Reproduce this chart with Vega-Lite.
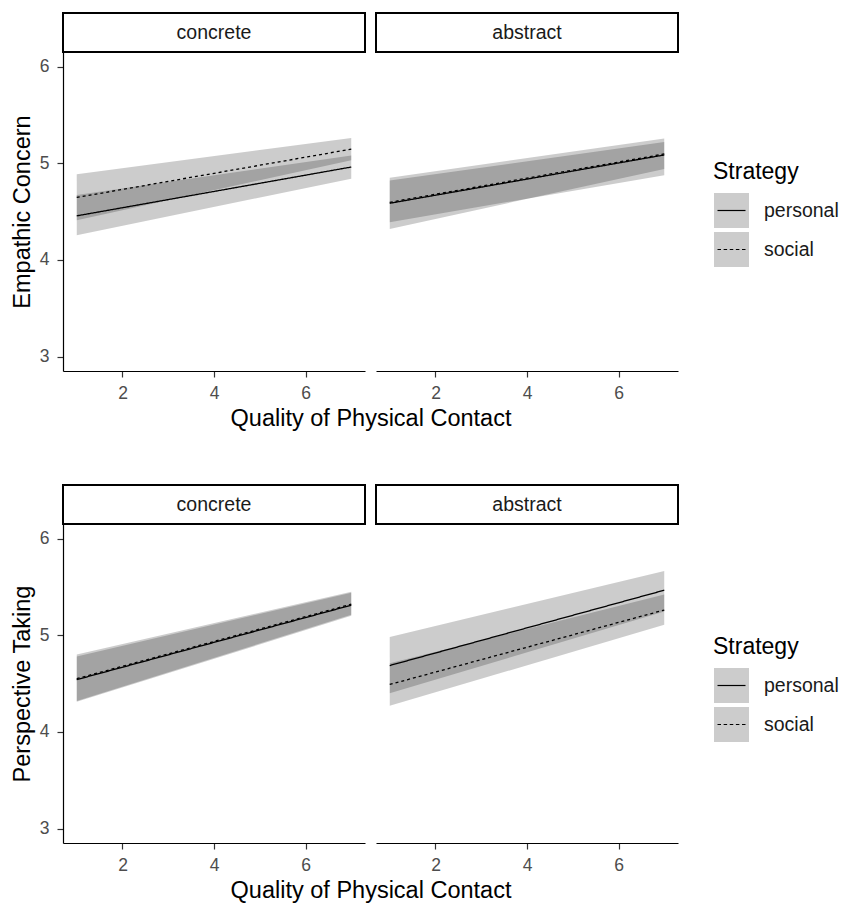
{
  "$schema": "https://vega.github.io/schema/vega-lite/v6.json",
  "padding": {"left": 10, "top": 12, "right": 5, "bottom": 5},
  "background": "white",
  "datasets": {
    "strips": [{"cond": "concrete"}, {"cond": "abstract"}],
    "fits": [
      {"m": "EC", "cond": "concrete", "strategy": "personal", "x": 1, "fit": 4.455, "lo": 4.255, "hi": 4.67},
      {"m": "EC", "cond": "concrete", "strategy": "personal", "x": 7, "fit": 4.96, "lo": 4.84, "hi": 5.08},
      {"m": "EC", "cond": "concrete", "strategy": "social", "x": 1, "fit": 4.645, "lo": 4.41, "hi": 4.886},
      {"m": "EC", "cond": "concrete", "strategy": "social", "x": 7, "fit": 5.145, "lo": 5.03, "hi": 5.26},
      {"m": "EC", "cond": "abstract", "strategy": "personal", "x": 1, "fit": 4.585, "lo": 4.32, "hi": 4.82},
      {"m": "EC", "cond": "abstract", "strategy": "personal", "x": 7, "fit": 5.085, "lo": 4.94, "hi": 5.22},
      {"m": "EC", "cond": "abstract", "strategy": "social", "x": 1, "fit": 4.595, "lo": 4.39, "hi": 4.85},
      {"m": "EC", "cond": "abstract", "strategy": "social", "x": 7, "fit": 5.095, "lo": 4.876, "hi": 5.255},
      {"m": "PT", "cond": "concrete", "strategy": "personal", "x": 1, "fit": 4.54, "lo": 4.31, "hi": 4.78},
      {"m": "PT", "cond": "concrete", "strategy": "personal", "x": 7, "fit": 5.31, "lo": 5.2, "hi": 5.44},
      {"m": "PT", "cond": "concrete", "strategy": "social", "x": 1, "fit": 4.55, "lo": 4.32, "hi": 4.8},
      {"m": "PT", "cond": "concrete", "strategy": "social", "x": 7, "fit": 5.32, "lo": 5.21, "hi": 5.45},
      {"m": "PT", "cond": "abstract", "strategy": "personal", "x": 1, "fit": 4.686, "lo": 4.4, "hi": 4.98},
      {"m": "PT", "cond": "abstract", "strategy": "personal", "x": 7, "fit": 5.465, "lo": 5.245, "hi": 5.665},
      {"m": "PT", "cond": "abstract", "strategy": "social", "x": 1, "fit": 4.49, "lo": 4.27, "hi": 4.71},
      {"m": "PT", "cond": "abstract", "strategy": "social", "x": 7, "fit": 5.26, "lo": 5.107, "hi": 5.42}
    ]
  },
  "vconcat": [
    {
      "columns": 2,
      "bounds": "flush",
      "spacing": {"row": 0, "column": 11},
      "concat": [
        {
          "data": {"name": "strips"},
          "transform": [{"filter": "datum.cond === 'concrete'"}],
          "width": 302, "height": 39,
          "view": {"stroke": "black", "strokeWidth": 2, "fill": "white"},
          "mark": {"type": "text", "fontSize": 19.5, "color": "#1a1a1a"},
          "encoding": {"text": {"field": "cond", "type": "nominal"}}
        },
        {
          "data": {"name": "strips"},
          "transform": [{"filter": "datum.cond === 'abstract'"}],
          "width": 302, "height": 39,
          "view": {"stroke": "black", "strokeWidth": 2, "fill": "white"},
          "mark": {"type": "text", "fontSize": 19.5, "color": "#1a1a1a"},
          "encoding": {"text": {"field": "cond", "type": "nominal"}}
        },
        {
          "data": {"name": "fits"},
          "transform": [{"filter": "datum.m === 'EC' && datum.cond === 'concrete'"}],
          "width": 302, "height": 319,
          "resolve": {"scale": {"strokeDash": "independent"}, "legend": {"strokeDash": "independent"}},
          "layer": [
            {
              "mark": {"type": "area", "color": "black", "opacity": 0.2},
              "encoding": {
                "x": {"field": "x", "type": "quantitative", "scale": {"domain": [0.7, 7.3], "nice": false, "zero": false}, "axis": {"values": [2, 4, 6], "title": "Quality of Physical Contact", "titleX": 307.5, "titleAlign": "center"}},
                "y": {"field": "lo", "type": "quantitative", "scale": {"domain": [2.85, 6.15], "nice": false, "zero": false}, "axis": {"values": [3, 4, 5, 6], "format": "d", "title": "Empathic Concern", "labelPadding": 8, "titlePadding": 5}},
                "y2": {"field": "hi"},
                "detail": {"field": "strategy", "type": "nominal"}
              }
            },
            {
              "mark": {"type": "line", "color": "black", "strokeWidth": 1.3},
              "encoding": {
                "x": {"field": "x", "type": "quantitative"},
                "y": {"field": "fit", "type": "quantitative"},
                "strokeDash": {"field": "strategy", "type": "nominal", "scale": {"domain": ["personal", "social"], "range": [[1, 0], [3, 3]]}, "legend": null}
              }
            },
            {
              "mark": {"type": "line", "color": "black", "opacity": 0},
              "encoding": {
                "x": {"field": "x", "type": "quantitative"},
                "y": {"field": "fit", "type": "quantitative"},
                "strokeDash": {
                  "field": "strategy", "type": "nominal",
                  "scale": {"domain": ["personal", "social"], "range": [[28, 200], [3.5, 2.625, 3.5, 2.625, 3.5, 2.625, 3.5, 2.625, 3.5, 200]]},
                  "legend": {
                    "title": "Strategy", "orient": "none", "legendX": 650, "legendY": 109, "direction": "vertical",
                    "symbolType": "M-0.8,0H1V-1H-1V1H1V0", "symbolSize": 1225, "symbolStrokeWidth": 1.2,
                    "symbolStrokeColor": "black", "symbolFillColor": "#cccccc", "symbolOpacity": 1,
                    "rowPadding": -6, "labelOffset": 14, "titlePadding": 8
                  }
                }
              }
            }
          ]
        },
        {
          "data": {"name": "fits"},
          "transform": [{"filter": "datum.m === 'EC' && datum.cond === 'abstract'"}],
          "width": 302, "height": 319,
          "layer": [
            {
              "mark": {"type": "area", "color": "black", "opacity": 0.2},
              "encoding": {
                "x": {"field": "x", "type": "quantitative", "scale": {"domain": [0.7, 7.3], "nice": false, "zero": false}, "axis": {"values": [2, 4, 6], "title": null}},
                "y": {"field": "lo", "type": "quantitative", "scale": {"domain": [2.85, 6.15], "nice": false, "zero": false}, "axis": null},
                "y2": {"field": "hi"},
                "detail": {"field": "strategy", "type": "nominal"}
              }
            },
            {
              "mark": {"type": "line", "color": "black", "strokeWidth": 1.3},
              "encoding": {
                "x": {"field": "x", "type": "quantitative"},
                "y": {"field": "fit", "type": "quantitative"},
                "strokeDash": {"field": "strategy", "type": "nominal", "scale": {"domain": ["personal", "social"], "range": [[1, 0], [3, 3]]}, "legend": null}
              }
            }
          ]
        }
      ]
    },
    {
      "columns": 2,
      "bounds": "flush",
      "spacing": {"row": 0, "column": 11},
      "concat": [
        {
          "data": {"name": "strips"},
          "transform": [{"filter": "datum.cond === 'concrete'"}],
          "width": 302, "height": 39,
          "view": {"stroke": "black", "strokeWidth": 2, "fill": "white"},
          "mark": {"type": "text", "fontSize": 19.5, "color": "#1a1a1a"},
          "encoding": {"text": {"field": "cond", "type": "nominal"}}
        },
        {
          "data": {"name": "strips"},
          "transform": [{"filter": "datum.cond === 'abstract'"}],
          "width": 302, "height": 39,
          "view": {"stroke": "black", "strokeWidth": 2, "fill": "white"},
          "mark": {"type": "text", "fontSize": 19.5, "color": "#1a1a1a"},
          "encoding": {"text": {"field": "cond", "type": "nominal"}}
        },
        {
          "data": {"name": "fits"},
          "transform": [{"filter": "datum.m === 'PT' && datum.cond === 'concrete'"}],
          "width": 302, "height": 319,
          "resolve": {"scale": {"strokeDash": "independent"}, "legend": {"strokeDash": "independent"}},
          "layer": [
            {
              "mark": {"type": "area", "color": "black", "opacity": 0.2},
              "encoding": {
                "x": {"field": "x", "type": "quantitative", "scale": {"domain": [0.7, 7.3], "nice": false, "zero": false}, "axis": {"values": [2, 4, 6], "title": "Quality of Physical Contact", "titleX": 307.5, "titleAlign": "center"}},
                "y": {"field": "lo", "type": "quantitative", "scale": {"domain": [2.85, 6.15], "nice": false, "zero": false}, "axis": {"values": [3, 4, 5, 6], "format": "d", "title": "Perspective Taking", "labelPadding": 8, "titlePadding": 5}},
                "y2": {"field": "hi"},
                "detail": {"field": "strategy", "type": "nominal"}
              }
            },
            {
              "mark": {"type": "line", "color": "black", "strokeWidth": 1.3},
              "encoding": {
                "x": {"field": "x", "type": "quantitative"},
                "y": {"field": "fit", "type": "quantitative"},
                "strokeDash": {"field": "strategy", "type": "nominal", "scale": {"domain": ["personal", "social"], "range": [[1, 0], [3, 3]]}, "legend": null}
              }
            },
            {
              "mark": {"type": "line", "color": "black", "opacity": 0},
              "encoding": {
                "x": {"field": "x", "type": "quantitative"},
                "y": {"field": "fit", "type": "quantitative"},
                "strokeDash": {
                  "field": "strategy", "type": "nominal",
                  "scale": {"domain": ["personal", "social"], "range": [[28, 200], [3.5, 2.625, 3.5, 2.625, 3.5, 2.625, 3.5, 2.625, 3.5, 200]]},
                  "legend": {
                    "title": "Strategy", "orient": "none", "legendX": 650, "legendY": 112, "direction": "vertical",
                    "symbolType": "M-0.8,0H1V-1H-1V1H1V0", "symbolSize": 1225, "symbolStrokeWidth": 1.2,
                    "symbolStrokeColor": "black", "symbolFillColor": "#cccccc", "symbolOpacity": 1,
                    "rowPadding": -6, "labelOffset": 14, "titlePadding": 8
                  }
                }
              }
            }
          ]
        },
        {
          "data": {"name": "fits"},
          "transform": [{"filter": "datum.m === 'PT' && datum.cond === 'abstract'"}],
          "width": 302, "height": 319,
          "layer": [
            {
              "mark": {"type": "area", "color": "black", "opacity": 0.2},
              "encoding": {
                "x": {"field": "x", "type": "quantitative", "scale": {"domain": [0.7, 7.3], "nice": false, "zero": false}, "axis": {"values": [2, 4, 6], "title": null}},
                "y": {"field": "lo", "type": "quantitative", "scale": {"domain": [2.85, 6.15], "nice": false, "zero": false}, "axis": null},
                "y2": {"field": "hi"},
                "detail": {"field": "strategy", "type": "nominal"}
              }
            },
            {
              "mark": {"type": "line", "color": "black", "strokeWidth": 1.3},
              "encoding": {
                "x": {"field": "x", "type": "quantitative"},
                "y": {"field": "fit", "type": "quantitative"},
                "strokeDash": {"field": "strategy", "type": "nominal", "scale": {"domain": ["personal", "social"], "range": [[1, 0], [3, 3]]}, "legend": null}
              }
            }
          ]
        }
      ]
    }
  ],
  "spacing": 54,
  "resolve": {"scale": {"strokeDash": "independent"}, "legend": {"strokeDash": "independent"}},
  "config": {
    "font": "Liberation Sans",
    "view": {"stroke": null},
    "axis": {
      "grid": false,
      "domainColor": "black", "domainWidth": 1.2,
      "tickColor": "#333333", "tickWidth": 1.2, "tickSize": 6,
      "labelColor": "#4d4d4d", "labelFont": "Liberation Sans", "labelFontSize": 17.5, "labelPadding": 7,
      "titleFont": "Liberation Sans", "titleFontSize": 23.5, "titleFontWeight": "normal", "titleColor": "black", "titlePadding": 5
    },
    "legend": {
      "titleFont": "Liberation Sans", "titleFontSize": 23, "titleFontWeight": "normal", "titleColor": "black",
      "labelFont": "Liberation Sans", "labelFontSize": 19.5, "labelColor": "#1a1a1a"
    }
  }
}
